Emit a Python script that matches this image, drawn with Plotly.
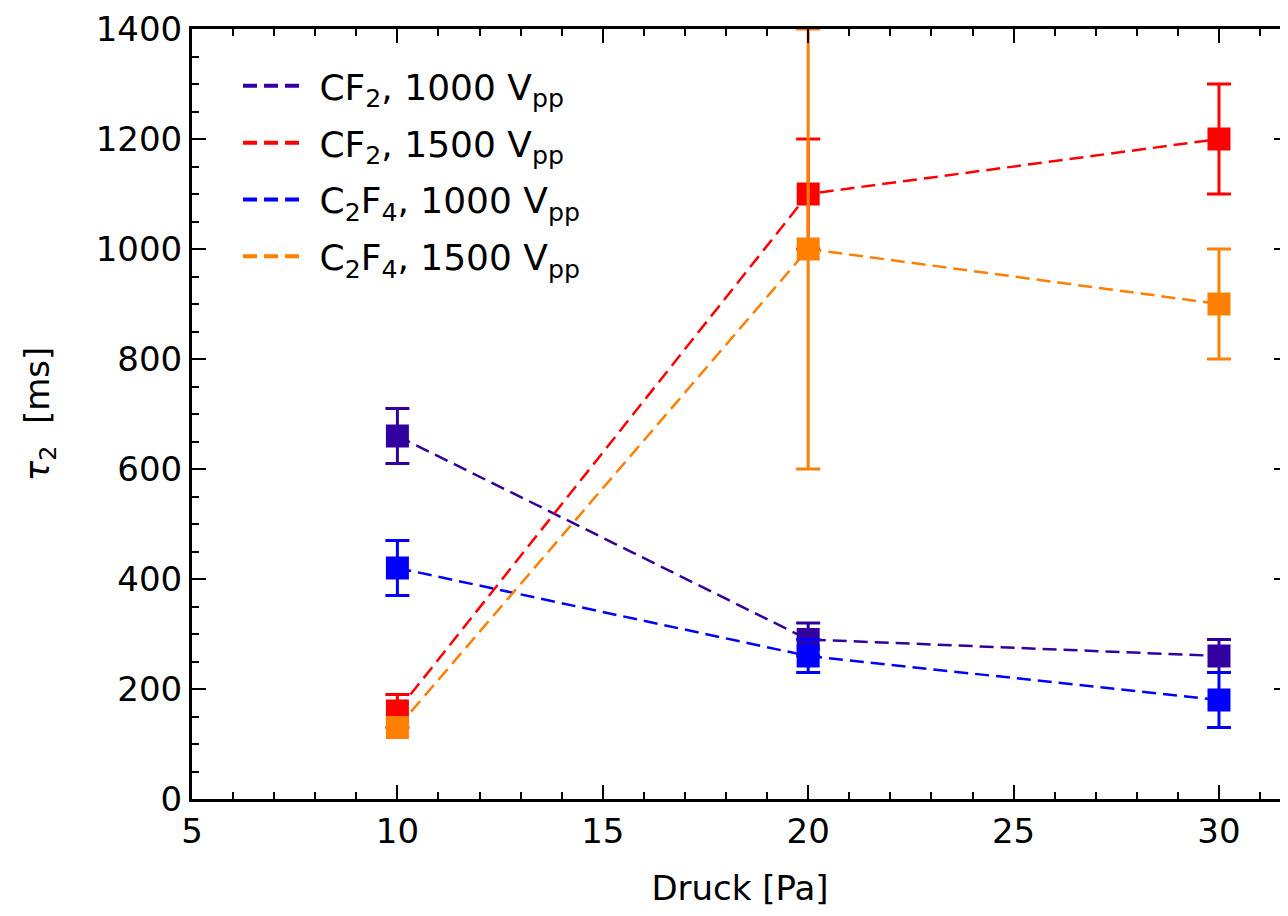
import plotly.graph_objects as go

pressure = [10, 20, 30]

cf2_1000 = [660, 290, 260]
cf2_1000_err = [50, 30, 30]
cf2_1500 = [160, 1100, 1200]
cf2_1500_err = [30, 100, 100]
c2f4_1000 = [420, 260, 180]
c2f4_1000_err = [50, 30, 50]
c2f4_1500 = [130, 1000, 900]
c2f4_1500_err = [0, 400, 100]

names = ["CF<sub>2</sub>, 1000 V<sub>pp</sub>",
         "CF<sub>2</sub>, 1500 V<sub>pp</sub>",
         "C<sub>2</sub>F<sub>4</sub>, 1000 V<sub>pp</sub>",
         "C<sub>2</sub>F<sub>4</sub>, 1500 V<sub>pp</sub>"]
colors = ["#3300a0", "#ff0000", "#0000ff", "#ff7f00"]
series = [cf2_1000, cf2_1500, c2f4_1000, c2f4_1500]
errors = [cf2_1000_err, cf2_1500_err, c2f4_1000_err, c2f4_1500_err]

fig = go.Figure()
for name, col, ys, es in zip(names, colors, series, errors):
    fig.add_trace(go.Scatter(
        x=pressure, y=ys, mode="lines+markers", showlegend=False,
        line=dict(color=col, width=2.5, dash="14px,7px"),
        marker=dict(symbol="square", size=23, color=col),
        error_y=dict(type="data", array=es, visible=True, color=col,
                     thickness=3, width=12),
    ))
for i, (name, col) in enumerate(zip(names, colors)):
    fig.add_trace(go.Scatter(
        x=[None], y=[None], mode="lines", name="\u00a0" + name,
        legendgroup="g%d" % i,
        line=dict(color=col, width=4, dash="14px,7px"),
    ))

tickfont = dict(family="DejaVu Sans", size=34, color="black")
fig.update_layout(
    width=1280, height=908,
    margin=dict(l=184, r=0, t=21, b=117),
    paper_bgcolor="white", plot_bgcolor="white",
    font=dict(family="DejaVu Sans", color="black"),
    legend=dict(x=0.042, y=0.965, xanchor="left", yanchor="top",
                bgcolor="rgba(0,0,0,0)", font=dict(size=36, family="DejaVu Sans"),
                tracegroupgap=7, itemwidth=60),
    xaxis=dict(range=[5, 31.68], tickmode="linear", tick0=5, dtick=5,
               ticks="inside", ticklen=14, tickwidth=2, tickcolor="black",
               minor=dict(dtick=1, ticks="inside", ticklen=7, tickwidth=2, tickcolor="black"),
               showline=True, linecolor="black", linewidth=3, mirror="allticks",
               showgrid=False, zeroline=False, tickfont=tickfont, automargin=False,
               title=dict(text="Druck [Pa]", font=dict(size=34), standoff=27)),
    yaxis=dict(range=[0, 1400], tickmode="linear", tick0=0, dtick=200,
               ticks="inside", ticklen=14, tickwidth=2, tickcolor="black",
               minor=dict(dtick=50, ticks="inside", ticklen=7, tickwidth=2, tickcolor="black"),
               showline=True, linecolor="black", linewidth=3, mirror="allticks",
               showgrid=False, zeroline=False, tickfont=tickfont, automargin=False,
               title=dict(text="<i>τ</i><sub>2</sub>  [ms]", font=dict(size=34), standoff=36)),
)
fig.write_html("out.html")
